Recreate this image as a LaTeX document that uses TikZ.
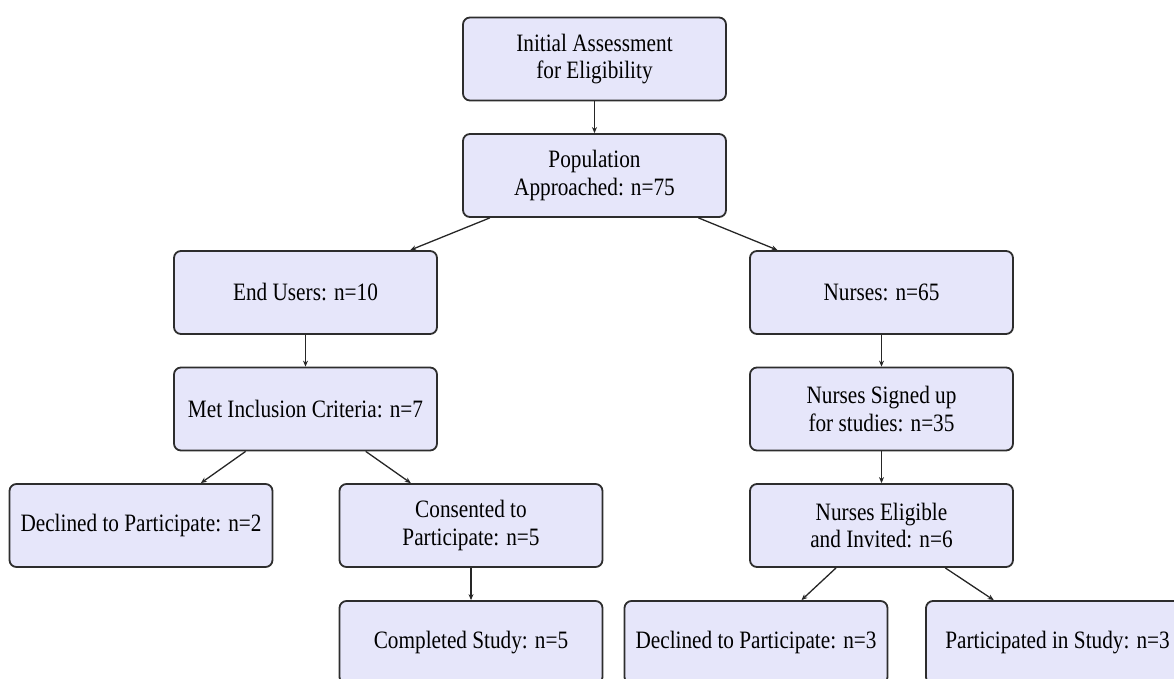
\documentclass[tikz,border=0pt]{standalone}
\usepackage{fontspec}
\setmainfont{Liberation Serif}[FakeStretch=0.85]
\usetikzlibrary{arrows.meta}
\definecolor{boxfill}{RGB}{230,230,250}
\definecolor{boxline}{RGB}{45,45,45}
\tikzset{
  flowbox/.style={draw=boxline, line width=1.8pt, fill=boxfill, rounded corners=7pt,
    minimum width=263pt, minimum height=83pt, align=center, inner sep=0pt,
    font=\fontsize{25}{27.5}\selectfont},
  link/.style={draw=black!85, line width=1.3pt, -{Stealth[length=6pt,width=5pt]}}
}
\begin{document}
\begin{tikzpicture}[x=1pt,y=-1pt]
\useasboundingbox (0,0) rectangle (1174,679);
\clip (0,0) rectangle (1174,679);
\node[flowbox] (init) at (594.5,59) {Initial Assessment\\for Eligibility};
\node[flowbox] (pop) at (594.5,175.5) {Population\\Approached: n=75};
\node[flowbox] (end) at (305.5,292.5) {End Users: n=10};
\node[flowbox] (nurses) at (881.5,292.5) {Nurses: n=65};
\node[flowbox] (met) at (305.5,409) {Met Inclusion Criteria: n=7};
\node[flowbox] (signed) at (881.5,409) {Nurses Signed up\\for studies: n=35};
\node[flowbox] (dec2) at (141,525.5) {Declined to Participate: n=2};
\node[flowbox] (cons) at (471,525.5) {Consented to\\Participate: n=5};
\node[flowbox] (elig) at (881.5,525.5) {Nurses Eligible\\and Invited: n=6};
\node[flowbox] (comp) at (471,642.5) {Completed Study: n=5};
\node[flowbox] (dec3) at (756,642.5) {Declined to Participate: n=3};
\node[flowbox] (part) at (1057.5,642.5) {Participated in Study: n=3};
\draw[link] (init) -- (pop);
\draw[link] (pop) -- (end);
\draw[link] (pop) -- (nurses);
\draw[link] (end) -- (met);
\draw[link] (nurses) -- (signed);
\draw[link] (met) -- (dec2);
\draw[link] (met) -- (cons);
\draw[link] (signed) -- (elig);
\draw[link] (cons) -- (comp);
\draw[link] (elig) -- (dec3);
\draw[link] (elig) -- (part);
\end{tikzpicture}
\end{document}
